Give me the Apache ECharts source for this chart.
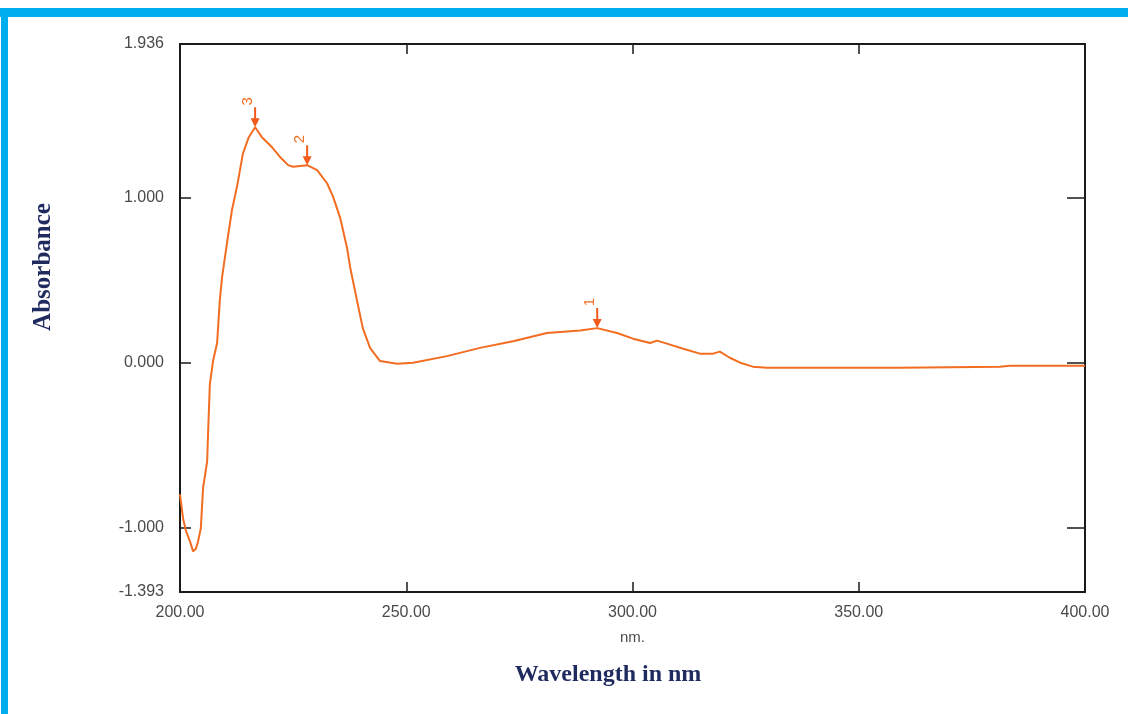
<!DOCTYPE html>
<html>
<head>
<meta charset="utf-8">
<script src="https://cdn.jsdelivr.net/npm/echarts@6/dist/echarts.min.js"></script>
<style>html,body{margin:0;padding:0;background:#fff}#c{width:1128px;height:714px}</style>
</head>
<body>
<div id="c"></div>
<script>
// Wavelength (nm) and absorbance
const wavelengths = [200.0, 200.7, 201.3, 202.2, 202.9, 203.5, 204.0, 204.6, 205.1, 206.0, 206.2, 206.6, 207.3, 208.2, 208.8, 209.3, 210.4, 211.5, 212.6, 213.9, 215.2, 216.6, 218.1, 220.3, 222.1, 223.9, 225.0, 226.5, 228.1, 230.3, 232.5, 233.8, 235.4, 236.9, 237.6, 239.1, 240.4, 242.0, 244.2, 248.0, 251.5, 259.0, 266.3, 273.6, 281.1, 288.4, 292.2, 296.6, 300.1, 303.9, 305.4, 307.6, 311.2, 314.9, 317.8, 319.3, 321.5, 323.8, 326.6, 329.7, 337.0, 359.1, 381.2, 383.4, 400.0];
const absorbance  = [-0.80, -0.95, -1.02, -1.085, -1.146, -1.13, -1.085, -1.006, -0.76, -0.60, -0.43, -0.13, 0.01, 0.12, 0.38, 0.52, 0.73, 0.93, 1.07, 1.27, 1.37, 1.43, 1.37, 1.31, 1.25, 1.20, 1.19, 1.195, 1.20, 1.17, 1.09, 1.01, 0.88, 0.70, 0.58, 0.38, 0.21, 0.09, 0.01, -0.006, 0.0, 0.04, 0.09, 0.13, 0.18, 0.195, 0.21, 0.18, 0.146, 0.12, 0.134, 0.116, 0.085, 0.055, 0.055, 0.067, 0.03, 0.0, -0.024, -0.03, -0.03, -0.03, -0.024, -0.018, -0.018];
// Peak annotations
const peakLabels = ['3', '2', '1'];
const peakNm = [216.6, 228.1, 292.2];
const peakAbs = [1.43, 1.20, 0.21];
// Axis ticks
const xTicks = [200, 250, 300, 350, 400];
const yLabelVals = [-1.393, -1, 0, 1, 1.936];
const yTickVals = [-1, 0, 1];
const xMin = 200, xMax = 400, yMin = -1.393, yMax = 1.936;

const lineColor = '#F26D21';
const axisColor = '#1a1a1a';
const labelColor = '#4a4a4a';
const navy = '#1F2A5E';
const serif = 'Liberation Serif, Times New Roman, serif';
const sans = 'Liberation Sans, Arial';

const chart = echarts.init(document.getElementById('c'));
const arrowPath = 'path://M3.5,0 L5.5,0 L5.5,11 L9,11 L4.5,20 L0,11 L3.5,11 Z';

chart.setOption({
  animation: false,
  grid: {left: 180, right: 43, top: 44, bottom: 122},
  xAxis: [{
    type: 'value', min: xMin, max: xMax, interval: 50,
    axisLine: {show: true, onZero: false, lineStyle: {color: axisColor, width: 2}},
    axisTick: {show: true, inside: true, length: 10, lineStyle: {color: axisColor, width: 1.5}, customValues: xTicks.slice(1, -1)},
    axisLabel: {color: labelColor, fontSize: 16, fontFamily: sans, margin: 13,
      customValues: xTicks, formatter: v => v.toFixed(2)},
    splitLine: {show: false},
    name: 'nm.', nameLocation: 'middle', nameGap: 38,
    nameTextStyle: {color: labelColor, fontSize: 15, fontFamily: sans}
  }, {
    type: 'value', position: 'top', min: xMin, max: xMax, interval: 50,
    axisLine: {show: true, onZero: false, lineStyle: {color: axisColor, width: 2}},
    axisTick: {show: true, inside: true, length: 10, lineStyle: {color: axisColor, width: 1.5}, customValues: xTicks.slice(1, -1)},
    axisLabel: {show: false}, splitLine: {show: false}
  }],
  yAxis: [{
    type: 'value', min: yMin, max: yMax,
    axisLine: {show: true, onZero: false, lineStyle: {color: axisColor, width: 2}},
    axisTick: {show: true, inside: true, length: 11, lineStyle: {color: axisColor, width: 1.5}, customValues: yTickVals},
    axisLabel: {color: labelColor, fontSize: 16, fontFamily: sans, margin: 16,
      customValues: yLabelVals, formatter: v => v.toFixed(3)},
    splitLine: {show: false}
  }, {
    type: 'value', position: 'right', min: yMin, max: yMax,
    axisLine: {show: true, onZero: false, lineStyle: {color: axisColor, width: 2}},
    axisTick: {show: true, inside: true, length: 18, lineStyle: {color: axisColor, width: 1.5}, customValues: yTickVals},
    axisLabel: {show: false}, splitLine: {show: false}
  }],
  graphic: [
    {type: 'rect', left: 0, top: 8, shape: {width: 1128, height: 9}, style: {fill: '#00AEEF'}},
    {type: 'rect', left: 1, top: 8, shape: {width: 7, height: 706}, style: {fill: '#00AEEF'}},
    {type: 'text', x: 608, y: 675, style: {text: 'Wavelength in nm', fill: navy, fontSize: 24,
      fontWeight: 'bold', fontFamily: serif, textAlign: 'center', textVerticalAlign: 'middle'}},
    {type: 'text', x: 44, y: 267, rotation: Math.PI / 2, style: {text: 'Absorbance', fill: navy, fontSize: 25,
      fontWeight: 'bold', fontFamily: serif, textAlign: 'center', textVerticalAlign: 'middle'}}
  ],
  series: [{
    type: 'line', xAxisIndex: 0, yAxisIndex: 0,
    data: wavelengths.map((w, i) => [w, absorbance[i]]),
    showSymbol: false, smooth: false,
    lineStyle: {color: lineColor, width: 2},
    markPoint: {
      symbol: arrowPath, symbolSize: [9, 20], symbolOffset: [0, '-50%'],
      itemStyle: {color: '#F25A1A'},
      label: {show: true, position: 'top', distance: 6, color: lineColor, fontSize: 15,
        rotate: 90, fontFamily: sans, formatter: p => p.name},
      data: peakLabels.map((l, i) => ({name: l, coord: [peakNm[i], peakAbs[i]]}))
    }
  }]
});
</script>
</body>
</html>
